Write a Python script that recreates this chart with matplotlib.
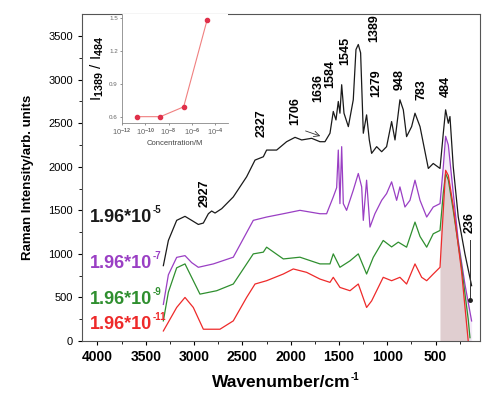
import matplotlib
matplotlib.use('Agg')
import matplotlib.pyplot as plt
import numpy as np

plt.rcParams['font.family'] = ['Liberation Sans', 'DejaVu Sans']
plt.rcParams['mathtext.fontset'] = 'custom'
plt.rcParams['mathtext.rm'] = 'Liberation Sans:bold'
plt.rcParams['mathtext.it'] = 'Liberation Sans:bold'
plt.rcParams['mathtext.bf'] = 'Liberation Sans:bold'

# spectra (wavenumber / intensity)
wn_black = [3318, 3266, 3180, 3094, 3025, 2956, 2904, 2852, 2818, 2783, 2714, 2594, 2456, 2369,
            2283, 2249, 2145, 2042, 1955, 1886, 1783, 1697, 1645, 1593, 1559, 1531, 1507, 1490,
            1472, 1448, 1403, 1352, 1324, 1300, 1276, 1248, 1214, 1186, 1162, 1110, 1058, 1007,
            955, 920, 869, 834, 800, 748, 713, 661, 575, 524, 454, 420, 396, 368, 351, 317, 265,
            196, 127]
int_black = [865, 1154, 1385, 1431, 1385, 1338, 1354, 1461, 1492, 1469, 1519, 1654, 1885, 2077,
             2115, 2192, 2192, 2288, 2338, 2308, 2327, 2288, 2288, 2385, 2635, 2538, 2750, 2615,
             2942, 2615, 2461, 2769, 3346, 3404, 3308, 2385, 2596, 2308, 2154, 2231, 2173, 2231,
             2519, 2308, 2769, 2654, 2346, 2461, 2615, 2461, 1981, 2038, 1981, 2385, 2654, 2500,
             2577, 2000, 1423, 1000, 635]

wn_purple = [3318, 3266, 3180, 3094, 3025, 2956, 2800, 2594, 2387, 2249, 2076, 1904, 1697, 1628,
             1559, 1524, 1507, 1490, 1472, 1455, 1421, 1352, 1300, 1265, 1248, 1214, 1179, 1128,
             1058, 1007, 955, 903, 869, 817, 765, 713, 661, 592, 524, 454, 420, 396, 368, 317,
             265, 196, 127]
int_purple = [420, 760, 960, 980, 900, 846, 885, 962, 1385, 1423, 1461, 1500, 1461, 1461,
              1654, 1760, 2192, 1577, 2231, 1577, 1500, 1731, 1923, 1769, 1385, 1846, 1308, 1461,
              1615, 1692, 1827, 1615, 1769, 1538, 1615, 1846, 1615, 1423, 1538, 1577, 2000, 2350,
              2250, 1700, 1150, 650, 230]

wn_green = [3318, 3266, 3180, 3094, 2939, 2766, 2594, 2387, 2283, 2249, 2076, 1904, 1697, 1593,
            1559, 1490, 1386, 1300, 1214, 1145, 1042, 955, 886, 800, 713, 661, 592, 524, 454, 420,
            396, 368, 317, 231, 162, 144]
int_green = [231, 560, 840, 885, 538, 577, 654, 1000, 1020, 1077, 942, 962, 885, 885,
             1000, 846, 920, 1000, 769, 960, 1154, 1080, 1135, 1077, 1365, 1200, 1077, 1231, 1269,
             1700, 1923, 1850, 1500, 850, 250, 38]

wn_red = [3318, 3180, 3094, 3008, 2904, 2732, 2594, 2456, 2369, 2249, 2076, 1973, 1835, 1697,
          1593, 1559, 1490, 1386, 1300, 1214, 1162, 1042, 955, 869, 800, 713, 644, 592, 524, 454,
          420, 396, 368, 317, 231, 162]
int_red = [115, 385, 500, 385, 135, 135, 231, 500, 654, 692, 769, 827, 788, 711,
           673, 731, 615, 577, 654, 385, 460, 731, 692, 731, 654, 885, 731, 692, 769, 846,
           1500, 1960, 1900, 1550, 800, 0]

conc_base = '1.96*10'
conc_exp = ['-5', '-7', '-9', '-11']
conc_colors = ['#1a1a1a', '#9a3fc4', '#2f8f2f', '#ee2a2a']

peak_labels = ['2927', '2327', '1706', '1636', '1584', '1545', '1389', '1279', '948', '783', '484', '236']
peak_x = [2887, 2297, 1955, 1717, 1593, 1438, 1138, 1117, 869, 641, 392, 144]
peak_y = [1538, 2342, 2480, 2744, 2904, 3169, 3433, 2801, 2881, 2767, 2801, 1240]

# inset: ratio vs concentration
inset_conc = [1.96e-11, 1.96e-9, 1.96e-7, 1.96e-5]
inset_ratio = [0.60, 0.60, 0.69, 1.48]

fig = plt.figure(figsize=(4.83, 3.99), dpi=100)
ax = fig.add_axes([0.1698, 0.1454, 0.824, 0.8195])

curves = [(wn_black, int_black), (wn_purple, int_purple), (wn_green, int_green), (wn_red, int_red)]
for (w, I), c in zip(curves[1:], conc_colors[1:]):
    w = np.array(w); I = np.array(I)
    m = w <= 460
    ax.fill_between(w[m], 0, I[m], color=c, alpha=0.1, lw=0)
for (w, I), c in zip(curves, conc_colors):
    ax.plot(w, I, color=c, lw=0.9)

ax.set_xlim(4160, 40)
ax.set_ylim(0, 3754)
ax.set_xticks(np.arange(500, 4001, 500))
ax.set_xticks(np.arange(250, 4160, 250), minor=True)
ax.set_yticks(np.arange(0, 3501, 500))
ax.set_yticks(np.arange(250, 3750, 250), minor=True)
ax.tick_params(axis='x', labelsize=10, direction='out', length=3, width=0.8)
ax.tick_params(axis='y', labelsize=8, direction='out', length=3, width=0.8)
ax.tick_params(which='minor', length=2, width=0.6)
for t in ax.get_xticklabels():
    t.set_fontweight('bold')
for s in ax.spines.values():
    s.set_color('#555555')
ax.set_xlabel('Wavenumber/cm', fontsize=12.5, fontweight='bold', labelpad=8)
ax.annotate('-1', xy=(1, 1), xycoords=ax.xaxis.label, xytext=(0.5, 2), textcoords='offset points',
            fontsize=7, fontweight='bold', va='top', ha='left')
ax.set_ylabel('Raman Intensity/arb. units', fontsize=9.5, fontweight='bold', labelpad=10)

label_y = [1420, 890, 480, 190]
for e, c, y in zip(conc_exp, conc_colors, label_y):
    t = ax.text(4080, y, conc_base, color=c, fontsize=13, fontweight='bold', va='center', ha='left')
    ax.annotate(e, xy=(1, 1), xycoords=t, xytext=(0.5, 3), textcoords='offset points',
                color=c, fontsize=7, fontweight='bold', va='top', ha='left')

for lab, x, y in zip(peak_labels, peak_x, peak_y):
    ax.text(x, y, lab, rotation=90, fontsize=9, fontweight='bold', ha='center', va='bottom')

ax.annotate('', xy=(1666, 2342), xytext=(1873, 2422),
            arrowprops=dict(arrowstyle='->', color='#333333', lw=0.6))
ax.plot([144, 144], [1160, 470], color='#333333', lw=0.7)
ax.plot([144], [470], 'o', color='#222222', ms=2.5)

# inset
ins = fig.add_axes([0.2526, 0.6917, 0.2195, 0.2732])
ins.plot(inset_conc, inset_ratio, color='#f08080', lw=0.8, marker='o', ms=3,
         mfc='#e0304a', mec='#e0304a')
ins.set_xscale('log')
ins.set_xlim(1e-12, 10 ** -2.9)
ins.set_ylim(0.542, 1.539)
ins.set_xticks([1e-12, 1e-10, 1e-8, 1e-6, 1e-4])
ins.set_xticklabels(['10$^{-12}$', '10$^{-10}$', '10$^{-8}$', '10$^{-6}$', '10$^{-4}$'])
ins.set_yticks([0.6, 0.9, 1.2, 1.5])
ins.tick_params(labelsize=4.5, length=1.5, width=0.5, colors='#666666', pad=1.5)
ins.tick_params(axis='x', labelsize=5.5)
ins.spines['top'].set_visible(False)
ins.spines['right'].set_visible(False)
for s in ['left', 'bottom']:
    ins.spines[s].set_color('#888888')
    ins.spines[s].set_linewidth(0.6)
ins.set_xlabel('Concentration/M', fontsize=5.5, color='#444444', labelpad=1)
ins.set_ylabel('I$_{1389}$ / I$_{484}$', fontsize=11, labelpad=2)

fig.savefig('out.png', dpi=100)
